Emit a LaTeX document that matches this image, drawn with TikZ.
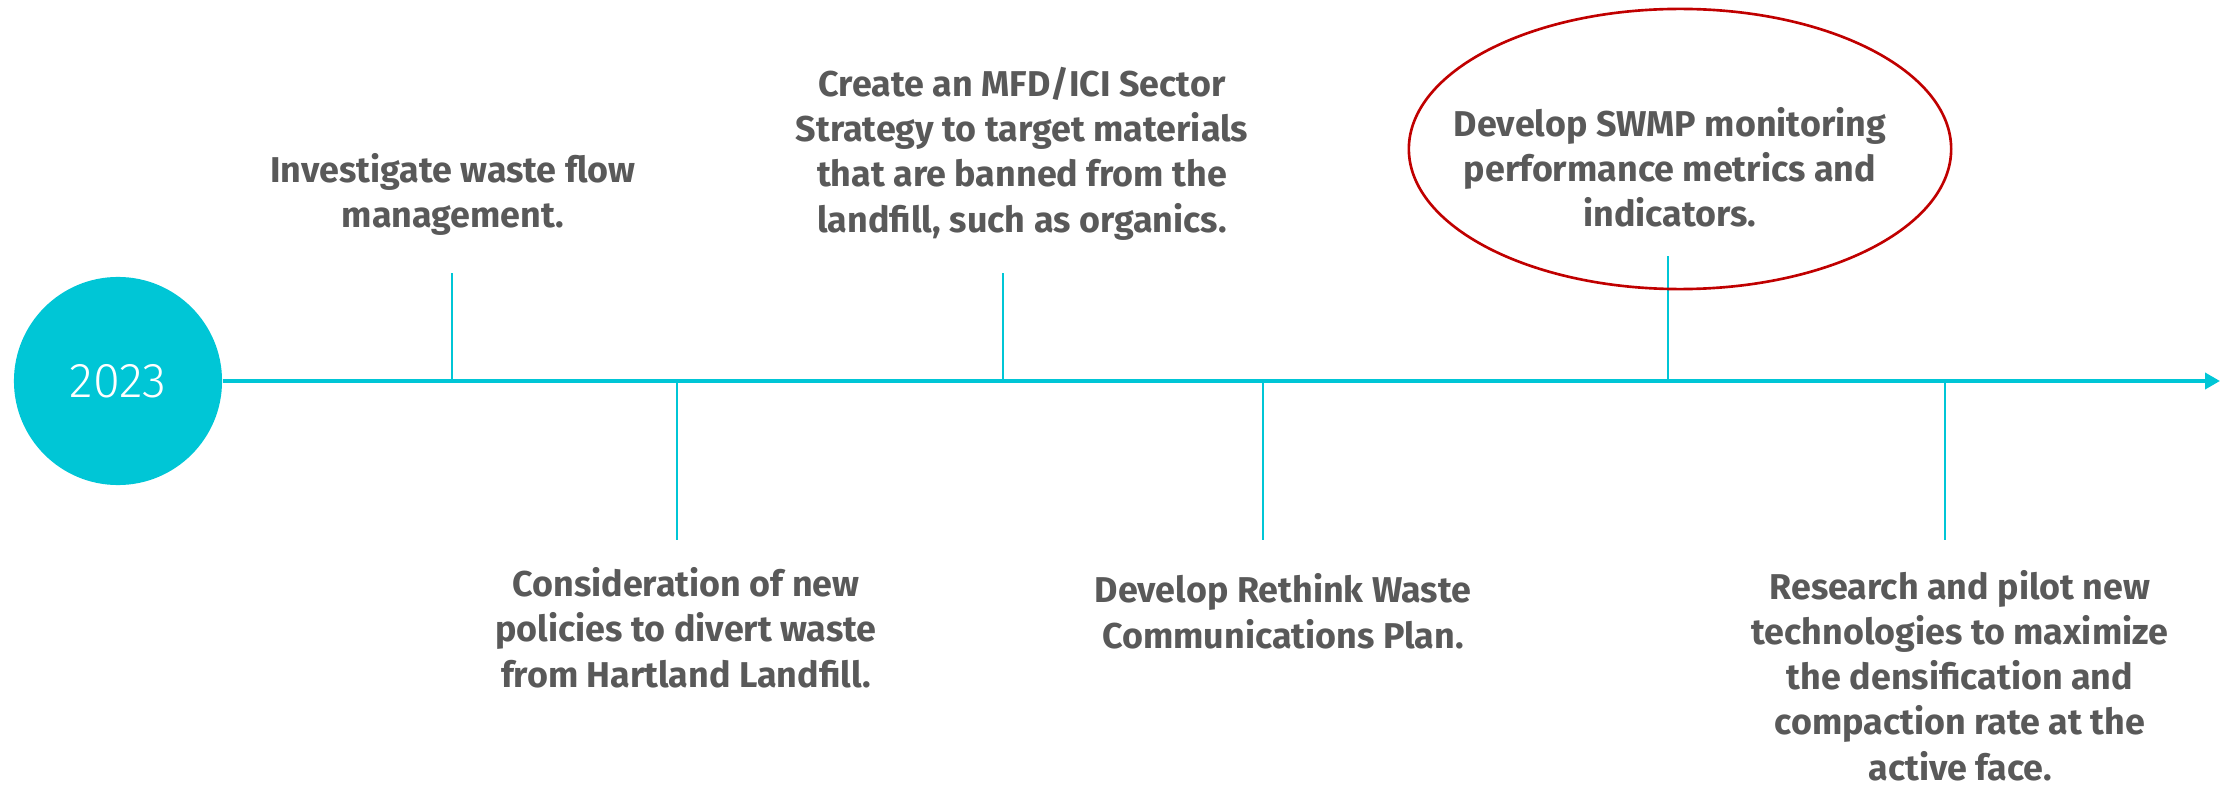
\documentclass[tikz,border=0pt]{standalone}
\usepackage{fontspec}
\setmainfont{Fira Sans}
\newfontfamily\firalight{Fira Sans Light}
\usetikzlibrary{arrows.meta,shapes.geometric}
\definecolor{lineteal}{RGB}{0,198,214}
\definecolor{textgray}{RGB}{89,89,89}
\definecolor{ringred}{RGB}{192,0,0}

\begin{document}
\begin{tikzpicture}[x=0.01cm,y=-0.01cm]
\tikzstyle{year} = [circle, fill=lineteal, minimum size=2.08cm, inner sep=0pt,
text=white, font=\firalight\fontsize{13.9}{16}\selectfont]
% base of a task is the baseline of its last line
\tikzstyle{task} = [align=center, text=textgray, inner sep=0pt, anchor=base,
font=\fontsize{10.2}{12.8}\selectfont\bfseries]
\tikzstyle{tick} = [draw=lineteal, line width=0.45pt]
\tikzstyle{axis} = [draw=lineteal, line width=1.3pt,
-{Triangle[length=0.15cm,width=0.16cm]}]
\tikzstyle{ring} = [ellipse, draw=ringred, line width=0.75pt,
minimum width=5.42cm, minimum height=2.80cm, inner sep=0pt]

\useasboundingbox (0,0) rectangle (2236,788);

% the timeline
\node [year] (year) at (118,381) {2023};
\coordinate (end) at (2220,381);
\draw [axis] (year.east) -- (end);

% ticks: up and down from the line
\foreach \x/\y [count=\i] in {452/273, 677/540, 1003/273, 1263/540, 1668/256, 1945/540}
{
  \coordinate (m\i) at (\x,381);
  \coordinate (e\i) at (\x,\y);
  \draw [tick] (m\i) -- (e\i);
}

% milestones
\node [task] (flow) at (453,228) {Investigate waste flow\\management.};
\node [task] (policies) at (686,687) {Consideration of new\\policies to divert waste\\from Hartland Landfill.};
\node [task] (sector) at (1022,232) {Create an MFD/ICI Sector\\Strategy to target materials\\that are banned from the\\landfill, such as organics.};
\node [task] (comms) at (1283,648) {Develop Rethink Waste\\Communications Plan.};
\node [task] (metrics) at (1670,227) {Develop SWMP monitoring\\performance metrics and\\indicators.};
\node [task] (research) at (1960,780) {Research and pilot new\\technologies to maximize\\the densification and\\compaction rate at the\\active face.};

% ring round the SWMP item
\node [ring] (focus) at (1680,149) {};
\end{tikzpicture}
\end{document}
